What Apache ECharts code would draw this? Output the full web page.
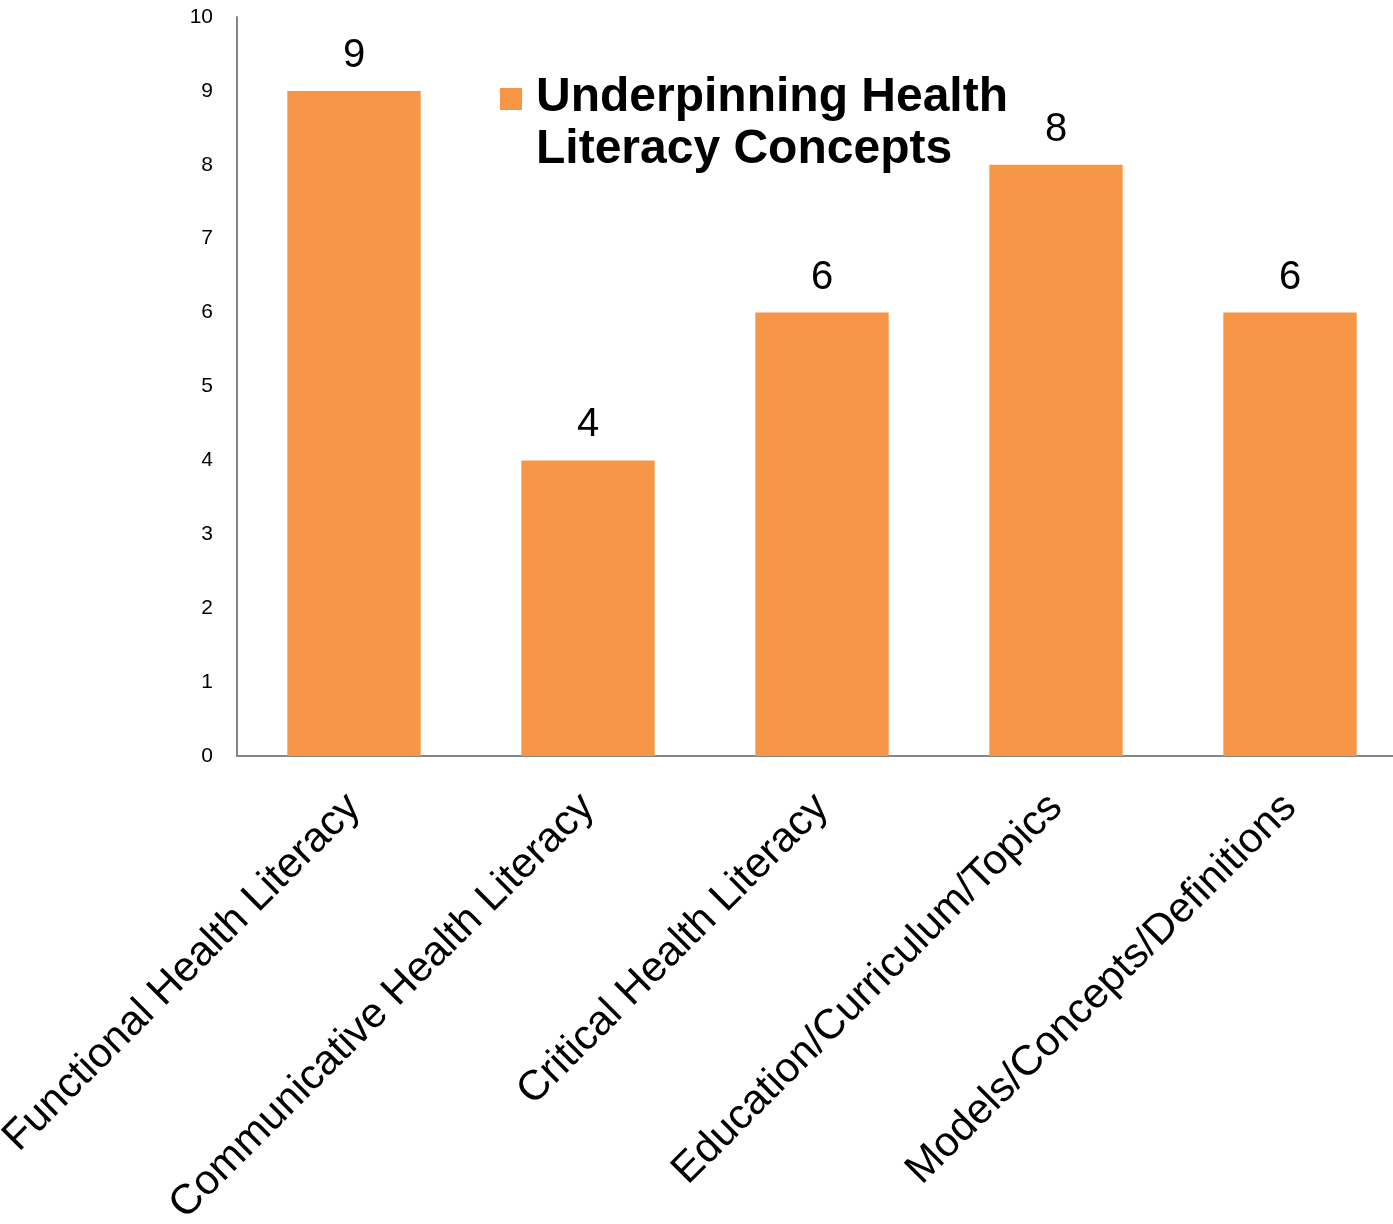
<!DOCTYPE html>
<html><head><meta charset="utf-8">
<script src="https://cdn.jsdelivr.net/npm/echarts@6/dist/echarts.min.js"></script>
<style>html,body{margin:0;padding:0;background:#fff}#c{width:1393px;height:1224px}</style>
</head><body><div id="c"></div>
<script>
const categories = ["Functional Health Literacy","Communicative Health Literacy","Critical Health Literacy","Education/Curriculum/Topics","Models/Concepts/Definitions"];
const values = [9, 4, 6, 8, 6];
const seriesName = "Underpinning Health Literacy Concepts";
const legendLines = ["Underpinning Health", "Literacy Concepts"];

const chart = echarts.init(document.getElementById('c'));
chart.setOption({
  animation: false,
  grid: {left: 237, right: -14, top: 17, bottom: 468, containLabel: false, outerBoundsMode: 'none'},
  legend: {
    left: 500, top: 23, padding: 0,
    itemWidth: 22, itemHeight: 22, itemGap: 0,
    icon: 'rect',
    data: [seriesName],
    formatter: () => '{e| }\n' + legendLines.map(l => '{a|' + l + '}').join('\n'),
    textStyle: {
      fontFamily: 'Liberation Sans, Arial, sans-serif', fontWeight: 'bold', fontSize: 48, color: '#000',
      rich: {
        e: {fontSize: 48, lineHeight: 50},
        a: {fontFamily: 'Liberation Sans, Arial, sans-serif', fontWeight: 'bold', fontSize: 48, color: '#000', lineHeight: 52, padding: [0, 0, 0, 9]}
      }
    }
  },
  xAxis: {
    type: 'category', data: categories,
    axisLine: {lineStyle: {color: '#868686', width: 2}},
    axisTick: {show: false},
    axisLabel: {rotate: 45, interval: 0, fontFamily: 'Liberation Sans, Arial, sans-serif', fontSize: 42, color: '#000', margin: 45}
  },
  yAxis: {
    type: 'value', min: 0, max: 10, interval: 1,
    axisLine: {show: true, lineStyle: {color: '#868686', width: 2}},
    axisTick: {show: false},
    splitLine: {show: false},
    axisLabel: {fontFamily: 'Liberation Sans, Arial, sans-serif', fontSize: 21, color: '#000', margin: 24}
  },
  series: [{
    name: seriesName, type: 'bar', data: values, barWidth: '57%',
    itemStyle: {color: '#F79646'},
    label: {show: true, position: 'top', distance: 15, fontFamily: 'Liberation Sans, Arial, sans-serif', fontSize: 40, color: '#000'}
  }]
});
</script></body></html>
